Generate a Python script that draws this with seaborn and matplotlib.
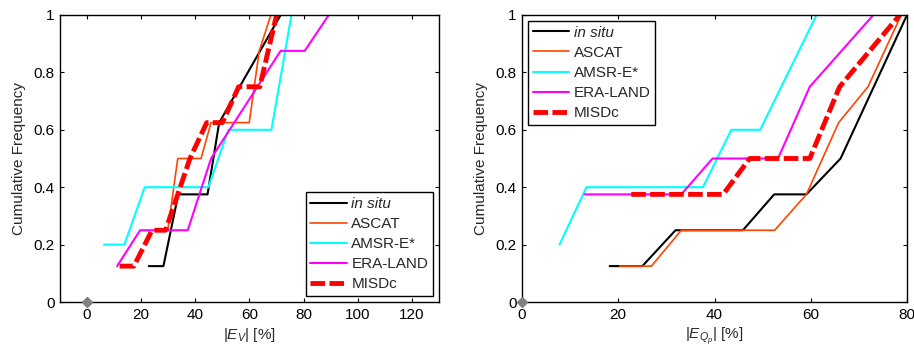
import matplotlib
matplotlib.use("Agg")
import matplotlib.pyplot as plt
import seaborn as sns
import pandas as pd
from matplotlib.ticker import FuncFormatter

# ---- data: left panel |E_V| [%] ----
insitu_v_x = [22.8, 28.2, 33.7, 44.5, 48.8, 71.5]
insitu_v_y = [0.125, 0.125, 0.375, 0.375, 0.625, 1.0]
ascat_v_x = [25.5, 29.8, 33.5, 42.1, 45.8, 59.9, 63.6, 67.9]
ascat_v_y = [0.25, 0.25, 0.5, 0.5, 0.625, 0.625, 0.875, 1.0]
amsr_v_x = [6.2, 13.8, 21.3, 44.8, 52.2, 68.1, 75.5]
amsr_v_y = [0.2, 0.2, 0.4, 0.4, 0.6, 0.6, 1.0]
era_v_x = [11.1, 19.6, 37.2, 45.8, 71.5, 80.4, 89.3]
era_v_y = [0.125, 0.25, 0.25, 0.5, 0.875, 0.875, 1.0]
misdc_v_x = [12.0, 17.3, 24.0, 29.0, 38.0, 44.2, 50.0, 56.0, 63.8, 70.0]
misdc_v_y = [0.125, 0.125, 0.25, 0.25, 0.5, 0.625, 0.625, 0.75, 0.75, 1.0]

# ---- data: right panel |E_Qp| [%] ----
insitu_q_x = [18.2, 25.0, 31.9, 45.9, 52.4, 59.1, 66.2, 80.0]
insitu_q_y = [0.125, 0.125, 0.25, 0.25, 0.375, 0.375, 0.5, 1.0]
ascat_q_x = [20.3, 26.9, 33.1, 52.5, 59.1, 65.8, 71.9, 78.8]
ascat_q_y = [0.125, 0.125, 0.25, 0.25, 0.375, 0.625, 0.75, 1.0]
amsr_q_x = [7.8, 13.4, 37.6, 43.5, 49.5, 61.2]
amsr_q_y = [0.2, 0.4, 0.4, 0.6, 0.6, 1.0]
era_q_x = [13.0, 33.1, 39.6, 53.2, 59.8, 73.0]
era_q_y = [0.375, 0.375, 0.5, 0.5, 0.75, 1.0]
misdc_q_x = [22.7, 41.8, 47.3, 59.8, 66.0, 78.5]
misdc_q_y = [0.375, 0.375, 0.5, 0.5, 0.75, 1.0]

labels = ["in situ", "ASCAT", "AMSR-E*", "ERA-LAND", "MISDc"]
colors = ["#000000", "#FF4500", "#00FFFF", "#FF00FF", "#FF0000"]
widths = [1.5, 1.2, 1.5, 1.5, 3.5]

left_series = [(insitu_v_x, insitu_v_y), (ascat_v_x, ascat_v_y), (amsr_v_x, amsr_v_y),
               (era_v_x, era_v_y), (misdc_v_x, misdc_v_y)]
right_series = [(insitu_q_x, insitu_q_y), (ascat_q_x, ascat_q_y), (amsr_q_x, amsr_q_y),
                (era_q_x, era_q_y), (misdc_q_x, misdc_q_y)]

sns.set_style("ticks")
plt.rcParams["font.family"] = ["Liberation Sans", "DejaVu Sans"]
plt.rcParams["mathtext.fontset"] = "custom"
plt.rcParams["mathtext.rm"] = "Liberation Sans"
plt.rcParams["mathtext.it"] = "Liberation Sans:italic"
plt.rcParams["mathtext.bf"] = "Liberation Sans:bold"

fs = 11
fig = plt.figure(figsize=(9.14, 3.59), dpi=100)
axL = fig.add_axes([60 / 914, 57 / 359, 379 / 914, 287 / 359])
axR = fig.add_axes([522 / 914, 57 / 359, 385 / 914, 287 / 359])


def draw(ax, series, xlim, xticks, xlabel, legloc):
    for (x, y), lab, c, w in zip(series, labels, colors, widths):
        df = pd.DataFrame({"x": x, "y": y})
        sns.lineplot(data=df, x="x", y="y", ax=ax, sort=False, estimator=None,
                     color=c, linewidth=w, label=lab)
        if lab == "MISDc":
            ax.lines[-1].set_linestyle((0, (3.0, 0.9)))
    ax.plot([0], [0], marker="D", color="#808080", markersize=5, clip_on=False,
            zorder=5, linestyle="none")
    ax.set_xlim(*xlim)
    ax.set_ylim(0, 1)
    ax.set_xticks(xticks)
    ax.set_yticks([0, 0.2, 0.4, 0.6, 0.8, 1.0])
    ax.yaxis.set_major_formatter(FuncFormatter(lambda v, p: "%g" % round(v, 2)))
    ax.xaxis.set_major_formatter(FuncFormatter(lambda v, p: "%g" % v))
    ax.tick_params(direction="in", length=3, width=0.8, top=True, right=True,
                   labelsize=fs, pad=4, colors="black")
    for s in ax.spines.values():
        s.set_visible(True)
        s.set_linewidth(1.0)
        s.set_color("black")
    ax.set_xlabel(xlabel, fontsize=fs, labelpad=3)
    ax.set_ylabel("Cumulative Frequency", fontsize=fs, labelpad=5)
    leg = ax.legend(loc=legloc, fontsize=fs, frameon=True, fancybox=False,
                    edgecolor="black", framealpha=1, handlelength=2.4,
                    handletextpad=0.3, labelspacing=0.4, borderpad=0.3,
                    borderaxespad=0.4)
    leg.get_frame().set_linewidth(1.0)
    leg.get_texts()[0].set_fontstyle("italic")
    leg.get_lines()[-1].set_linestyle((0, (3.0, 0.9)))


draw(axL, left_series, (-10, 130), [0, 20, 40, 60, 80, 100, 120],
     r"$|E_V|$ [%]", "lower right")
draw(axR, right_series, (0, 80), [0, 20, 40, 60, 80],
     r"$|E_{Q_p}|$ [%]", "upper left")

fig.savefig("out.png", dpi=100)
